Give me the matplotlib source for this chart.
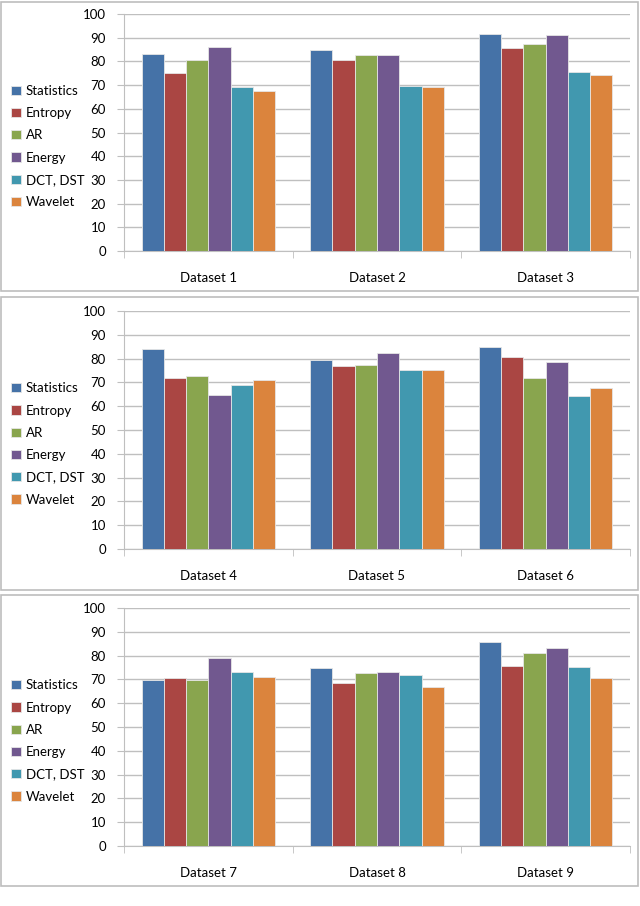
import matplotlib.pyplot as plt
from matplotlib.patches import Rectangle
import numpy as np

plt.rcParams['font.family'] = ['Lato', 'DejaVu Sans']

methods = ['Statistics', 'Entropy', 'AR', 'Energy', 'DCT, DST', 'Wavelet']
colors = ['#4572A7', '#AA4643', '#89A54E', '#71588F', '#4198AF', '#DB843D']

datasets = ['Dataset 1', 'Dataset 2', 'Dataset 3', 'Dataset 4', 'Dataset 5',
            'Dataset 6', 'Dataset 7', 'Dataset 8', 'Dataset 9']

# accuracy per dataset, one list per method
statistics = [83.1, 84.6, 91.4, 83.9, 79.6, 84.9, 69.8, 74.6, 85.7]
entropy = [75.2, 80.4, 85.5, 71.7, 77.0, 80.7, 70.7, 68.6, 75.6]
ar = [80.7, 82.7, 87.5, 72.7, 77.5, 72.0, 69.7, 72.6, 81.1]
energy = [85.9, 82.7, 91.1, 64.8, 82.4, 78.7, 78.8, 73.2, 83.4]
dct_dst = [69.1, 69.8, 75.6, 69.0, 75.2, 64.4, 73.2, 71.9, 75.3]
wavelet = [67.6, 69.1, 74.4, 71.0, 75.2, 67.8, 71.0, 67.0, 70.5]

series = [statistics, entropy, ar, energy, dct_dst, wavelet]

W, H = 640, 906
fig = plt.figure(figsize=(W / 100, H / 100), dpi=100)

# panel frames (top, bottom) and plot areas (top y=100, bottom y=0) in pixels
frames = [(2, 291), (297, 590), (595, 886)]
areas = [(14, 251), (311, 549), (608, 846)]
ax_left, ax_right = 124, 630

grid_c = '#BFBFBF'
bw = 0.132

for p in range(3):
    ft, fb = frames[p]
    fig.patches.append(Rectangle((1 / W, 1 - fb / H), 637 / W, (fb - ft) / H,
                                 transform=fig.transFigure, fill=False,
                                 edgecolor='#BDBDBD', linewidth=1.2))
    at, ab = areas[p]
    ax = fig.add_axes([ax_left / W, 1 - ab / H, (ax_right - ax_left) / W, (ab - at) / H])
    x = np.arange(3)
    for j in range(6):
        vals = series[j][p * 3:(p + 1) * 3]
        ax.bar(x + (j - 2.5) * bw, vals, width=bw, color=colors[j],
               edgecolor='#E6E6E6', linewidth=0.6, label=methods[j], zorder=3)
    ax.set_xlim(-0.5, 2.5)
    ax.set_ylim(0, 100)
    ax.set_yticks(range(0, 101, 10))
    ax.yaxis.grid(True, color=grid_c, linewidth=1.0, zorder=0)
    ax.set_xticks(x)
    ax.set_xticklabels(datasets[p * 3:(p + 1) * 3], fontsize=9.5)
    ax.set_xticks([-0.5, 0.5, 1.5, 2.5], minor=True)
    ax.tick_params(axis='x', which='major', length=0, pad=15)
    ax.tick_params(axis='x', which='minor', length=5, color=grid_c)
    ax.tick_params(axis='y', length=5, color=grid_c, labelsize=9.5, pad=8)
    for s in ['top', 'right']:
        ax.spines[s].set_visible(False)
    for s in ['left', 'bottom']:
        ax.spines[s].set_color(grid_c)
    cy = (at + ab) / 2 + 14
    ax.legend(loc='center left', bbox_to_anchor=(6 / W, 1 - cy / H),
              bbox_transform=fig.transFigure, frameon=False, fontsize=9.5,
              handlelength=0.7, handleheight=0.7, handletextpad=0.4,
              labelspacing=0.78, borderaxespad=0)

fig.savefig('out.png', dpi=100)
